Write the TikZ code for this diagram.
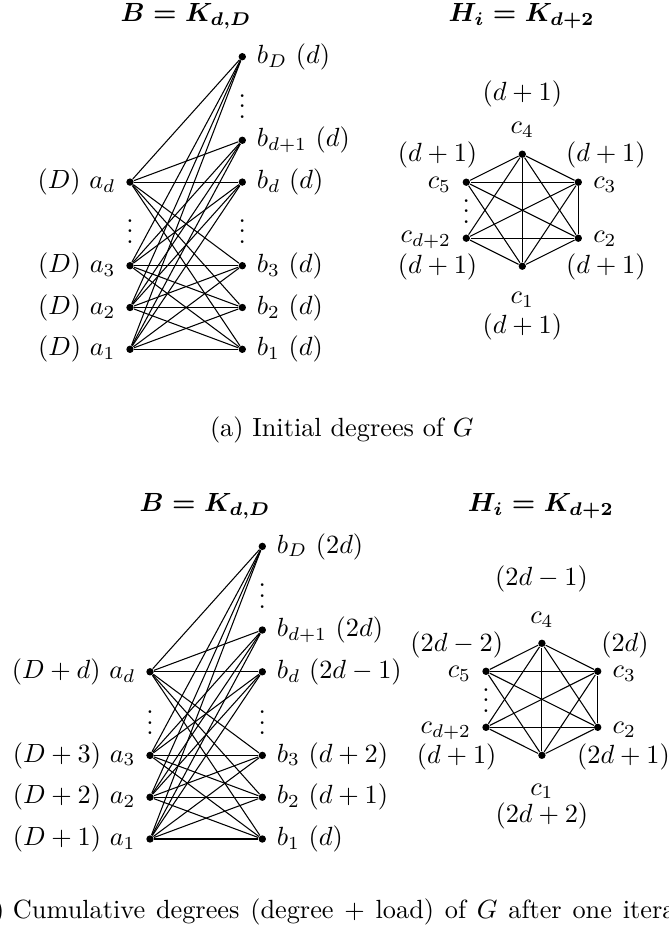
\documentclass[tikz,border=0pt]{standalone}
\usepackage{amsmath}
\tikzset{
  vtx/.style={circle,fill=black,inner sep=0pt,minimum size=2.8pt},
  labtxt/.style={inner sep=0pt,outer sep=0pt},
  lnk/.style={line width=0.4pt}
}
\begin{document}
\begin{tikzpicture}[x=0.3802pt,y=-0.3802pt]
\useasboundingbox (0,0) rectangle (668,935);
% ================= TOP PANEL =================
\node[labtxt,anchor=base] (tB1) at (186,21.7) {$\boldsymbol{B=K_{d,D}}$};
\node[labtxt,anchor=base] (tH1) at (521.7,21.7) {$\boldsymbol{H_i=K_{d+2}}$};

\node[vtx] (a1) at (130,349.3) {};
\node[vtx] (a2) at (130,307.5) {};
\node[vtx] (a3) at (130,265.7) {};
\node[vtx] (ad) at (130,182.1) {};
\node[vtx] (b1) at (242.3,349.3) {};
\node[vtx] (b2) at (242.3,307.5) {};
\node[vtx] (b3) at (242.3,265.7) {};
\node[vtx] (bd) at (242.3,182.1) {};
\node[vtx] (bdp) at (242.3,140.3) {};
\node[vtx] (bD) at (242.3,56.7) {};
\foreach \u in {a1,a2,a3,ad}
  \foreach \v in {b1,b2,b3,bd,bdp,bD}
    \draw[lnk] (\u) -- (\v);

\node[labtxt,anchor=base east] (la1) at (115.5,355.9) {$(D)$ $a_1$};
\node[labtxt,anchor=base east] (la2) at (115.5,314.1) {$(D)$ $a_2$};
\node[labtxt,anchor=base east] (la3) at (115.5,272.3) {$(D)$ $a_3$};
\node[labtxt,anchor=base east] (lad) at (115.5,188.7) {$(D)$ $a_d$};
\node[labtxt,anchor=base west] (lb1) at (256.8,355.9) {$b_1$ $(d)$};
\node[labtxt,anchor=base west] (lb2) at (256.8,314.1) {$b_2$ $(d)$};
\node[labtxt,anchor=base west] (lb3) at (256.8,272.3) {$b_3$ $(d)$};
\node[labtxt,anchor=base west] (lbd) at (256.8,188.7) {$b_d$ $(d)$};
\node[labtxt,anchor=base west] (lbdp) at (256.8,146.9) {$b_{d+1}$ $(d)$};
\node[labtxt,anchor=base west] (lbD) at (256.8,63.3) {$b_D$ $(d)$};
\node[labtxt,anchor=base] (va) at (130,243.1) {$\vdots$};
\node[labtxt,anchor=base] (vb) at (242.3,243.1) {$\vdots$};
\node[labtxt,anchor=base] (vbu) at (242.3,118.1) {$\vdots$};

\node[vtx] (c4) at (522.3,154.2) {};
\node[vtx] (c3) at (578.3,182.2) {};
\node[vtx] (c2) at (578.3,238.2) {};
\node[vtx] (c1) at (522.3,266.2) {};
\node[vtx] (cd) at (466.3,238.2) {};
\node[vtx] (c5) at (466.3,182.2) {};
\foreach \u/\v in {c1/c2,c1/c3,c1/c4,c1/c5,c1/cd,c2/c3,c2/c4,c2/c5,c2/cd,c3/c4,c3/c5,c3/cd,c4/c5,c4/cd}
  \draw[lnk] (\u) -- (\v);
\node[labtxt,anchor=base] (vc) at (466.3,223.1) {$\vdots$};

\node[labtxt,anchor=base] (dc4) at (522.3,100.5) {$(d+1)$};
\node[labtxt,anchor=base] (lc4) at (522.3,133.3) {$c_4$};
\node[labtxt,anchor=base] (dc5) at (437.5,161.6) {$(d+1)$};
\node[labtxt,anchor=base] (dc3) at (605.8,161.6) {$(d+1)$};
\node[labtxt,anchor=base east] (lc5) at (451,188.3) {$c_5$};
\node[labtxt,anchor=base west] (lc3) at (593.3,188.3) {$c_3$};
\node[labtxt,anchor=base east] (lcd) at (451,243) {$c_{d+2}$};
\node[labtxt,anchor=base west] (lc2) at (593.3,243) {$c_2$};
\node[labtxt,anchor=base] (dcd) at (437.5,273.3) {$(d+1)$};
\node[labtxt,anchor=base] (dc2) at (605.8,273.3) {$(d+1)$};
\node[labtxt,anchor=base] (lc1) at (522.3,304) {$c_1$};
\node[labtxt,anchor=base] (dc1) at (522.3,333.3) {$(d+1)$};

\node[labtxt,anchor=base west] (capa) at (210,436) {(a) Initial degrees of $G$};

% ================= BOTTOM PANEL =================
\node[labtxt,anchor=base] (tB2) at (205,511.7) {$\boldsymbol{B=K_{d,D}}$};
\node[labtxt,anchor=base] (tH2) at (540.8,511.7) {$\boldsymbol{H_i=K_{d+2}}$};

\node[vtx] (Ba1) at (150,839) {};
\node[vtx] (Ba2) at (150,797.2) {};
\node[vtx] (Ba3) at (150,755.4) {};
\node[vtx] (Bad) at (150,671.8) {};
\node[vtx] (Bb1) at (262.3,839) {};
\node[vtx] (Bb2) at (262.3,797.2) {};
\node[vtx] (Bb3) at (262.3,755.4) {};
\node[vtx] (Bbd) at (262.3,671.8) {};
\node[vtx] (Bbdp) at (262.3,630) {};
\node[vtx] (BbD) at (262.3,546.4) {};
\foreach \u in {Ba1,Ba2,Ba3,Bad}
  \foreach \v in {Bb1,Bb2,Bb3,Bbd,Bbdp,BbD}
    \draw[lnk] (\u) -- (\v);

\node[labtxt,anchor=base east] (Bla1) at (135.5,845.6) {$(D+1)$ $a_1$};
\node[labtxt,anchor=base east] (Bla2) at (135.5,803.8) {$(D+2)$ $a_2$};
\node[labtxt,anchor=base east] (Bla3) at (135.5,762) {$(D+3)$ $a_3$};
\node[labtxt,anchor=base east] (Blad) at (135.5,678.4) {$(D+d)$ $a_d$};
\node[labtxt,anchor=base west] (Blb1) at (276.8,845.6) {$b_1$ $(d)$};
\node[labtxt,anchor=base west] (Blb2) at (276.8,803.8) {$b_2$ $(d+1)$};
\node[labtxt,anchor=base west] (Blb3) at (276.8,762) {$b_3$ $(d+2)$};
\node[labtxt,anchor=base west] (Blbd) at (276.8,678.4) {$b_d$ $(2d-1)$};
\node[labtxt,anchor=base west] (Blbdp) at (276.8,636.6) {$b_{d+1}$ $(2d)$};
\node[labtxt,anchor=base west] (BlbD) at (276.8,553) {$b_D$ $(2d)$};
\node[labtxt,anchor=base] (Bva) at (150,734.7) {$\vdots$};
\node[labtxt,anchor=base] (Bvb) at (262.3,734.7) {$\vdots$};
\node[labtxt,anchor=base] (Bvbu) at (262.3,608) {$\vdots$};

\node[vtx] (Bc4) at (541.9,643.3) {};
\node[vtx] (Bc3) at (597.7,671.3) {};
\node[vtx] (Bc2) at (597.7,727.3) {};
\node[vtx] (Bc1) at (541.9,755.3) {};
\node[vtx] (Bcd) at (486,727.3) {};
\node[vtx] (Bc5) at (486,671.3) {};
\foreach \u/\v in {Bc1/Bc2,Bc1/Bc3,Bc1/Bc4,Bc1/Bc5,Bc1/Bcd,Bc2/Bc3,Bc2/Bc4,Bc2/Bc5,Bc2/Bcd,Bc3/Bc4,Bc3/Bc5,Bc3/Bcd,Bc4/Bc5,Bc4/Bcd}
  \draw[lnk] (\u) -- (\v);
\node[labtxt,anchor=base] (Bvc) at (486,712.1) {$\vdots$};

\node[labtxt,anchor=base] (Bdc4) at (541.5,585.3) {$(2d-1)$};
\node[labtxt,anchor=base] (Blc4) at (541.9,623.3) {$c_4$};
\node[labtxt,anchor=base] (Bdc5) at (456.7,651.6) {$(2d-2)$};
\node[labtxt,anchor=base] (Bdc3) at (625,651.6) {$(2d)$};
\node[labtxt,anchor=base east] (Blc5) at (471,677.5) {$c_5$};
\node[labtxt,anchor=base west] (Blc3) at (612.7,677.5) {$c_3$};
\node[labtxt,anchor=base east] (Blcd) at (471,733.3) {$c_{d+2}$};
\node[labtxt,anchor=base west] (Blc2) at (612.7,733.3) {$c_2$};
\node[labtxt,anchor=base] (Bdcd) at (456.7,763.6) {$(d+1)$};
\node[labtxt,anchor=base] (Bdc2) at (623.5,763.6) {$(2d+1)$};
\node[labtxt,anchor=base] (Blc1) at (541.9,795) {$c_1$};
\node[labtxt,anchor=base] (Bdc1) at (541.9,822.3) {$(2d+2)$};

\node[labtxt,anchor=base west] (capb) at (-30.85,918.3) {\spaceskip=4.1pt\relax (b)\kern3.33pt Cumulative degrees (degree $+$ load) of $G$ after one iteration};
\end{tikzpicture}
\end{document}
